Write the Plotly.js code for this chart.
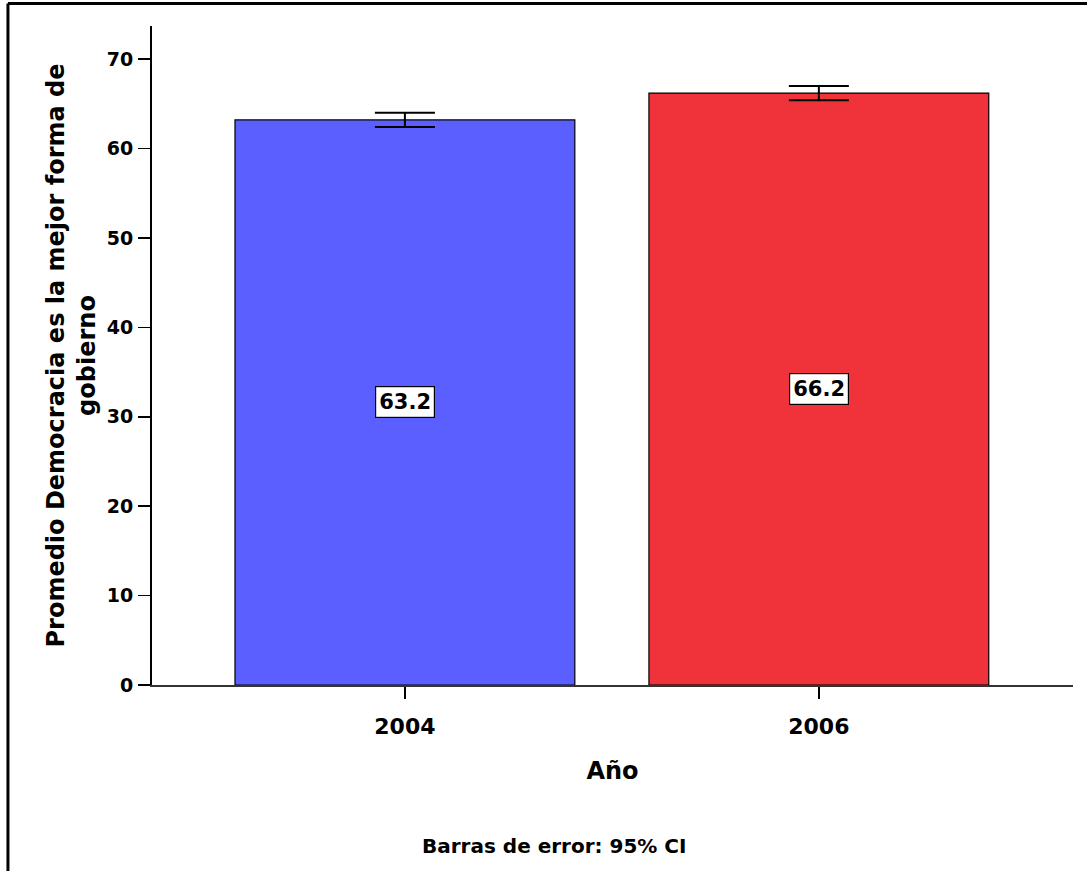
<!DOCTYPE html>
<html>
<head>
<meta charset="utf-8">
<script src="https://cdn.plot.ly/plotly-3.0.1.min.js"></script>
<style>html,body{margin:0;padding:0;background:#fff;}#chart{width:1087px;height:871px;}</style>
</head>
<body>
<div id="chart"></div>
<script>
const years = ['2004', '2006'];
const means = [63.2, 66.2];
const ciLow = [62.4, 65.4];
const ciHigh = [64.0, 67.0];
const barColors = ['#5B5FFF', '#F0333A'];

const FONT = 'DejaVu Sans, Verdana, sans-serif';

const trace = {
  type: 'bar',
  x: years,
  y: means,
  width: 0.821,
  marker: {color: barColors, line: {color: '#000', width: 1.2}},
  error_y: {
    type: 'data', symmetric: false,
    array: means.map((m, i) => ciHigh[i] - m),
    arrayminus: means.map((m, i) => m - ciLow[i]),
    color: '#000', thickness: 2, width: 30
  },
  hoverinfo: 'none'
};

const annotations = years.map((yr, i) => ({
  x: i, y: means[i] / 2, xref: 'x', yref: 'y',
  text: means[i].toFixed(1), showarrow: false,
  font: {family: FONT, size: 21, color: '#000', weight: 'bold'},
  bgcolor: '#fff', bordercolor: '#000', borderwidth: 1.2, borderpad: 3
}));
annotations.push({
  x: 0.436, y: -0.245, xref: 'paper', yref: 'paper',
  text: 'Barras de error: 95% CI', showarrow: false,
  font: {family: FONT, size: 20, color: '#000', weight: 'bold'},
  xanchor: 'center', yanchor: 'middle'
});

const layout = {
  width: 1087, height: 871,
  margin: {l: 152, r: 14, t: 26, b: 186},
  paper_bgcolor: '#fff', plot_bgcolor: '#fff',
  showlegend: false,
  font: {family: FONT, color: '#000'},
  xaxis: {
    type: 'category', range: [-0.611, 1.614],
    showline: true, linecolor: '#333', linewidth: 2,
    ticks: 'outside', ticklen: 12, tickwidth: 1.5, tickcolor: '#000',
    ticklabelstandoff: 9,
    tickfont: {family: FONT, size: 22, weight: 'bold'},
    showgrid: false, zeroline: false,
    title: {text: 'Año', font: {family: FONT, size: 24, weight: 'bold'}, standoff: 24}
  },
  yaxis: {
    range: [0, 73.7],
    tickvals: [0, 10, 20, 30, 40, 50, 60, 70],
    showline: true, linecolor: '#000', linewidth: 2,
    ticks: 'outside', ticklen: 12, tickwidth: 1.5, tickcolor: '#000',
    ticklabelstandoff: 1,
    tickfont: {family: FONT, size: 19, weight: 'bold'},
    showgrid: false, zeroline: false,
    title: {text: 'Promedio Democracia es la mejor forma de<br>gobierno', font: {family: FONT, size: 24, weight: 'bold'}, standoff: 4}
  },
  shapes: [
    {type: 'line', xref: 'paper', yref: 'paper', x0: -0.1564, x1: 1.02, y0: 1.034, y1: 1.034, line: {color: '#000', width: 3}},
    {type: 'line', xref: 'paper', yref: 'paper', x0: -0.1564, x1: -0.1564, y0: 1.034, y1: -0.3, line: {color: '#000', width: 3}}
  ],
  annotations: annotations
};

Plotly.newPlot('chart', [trace], layout, {displayModeBar: false, staticPlot: true});
</script>
</body>
</html>
